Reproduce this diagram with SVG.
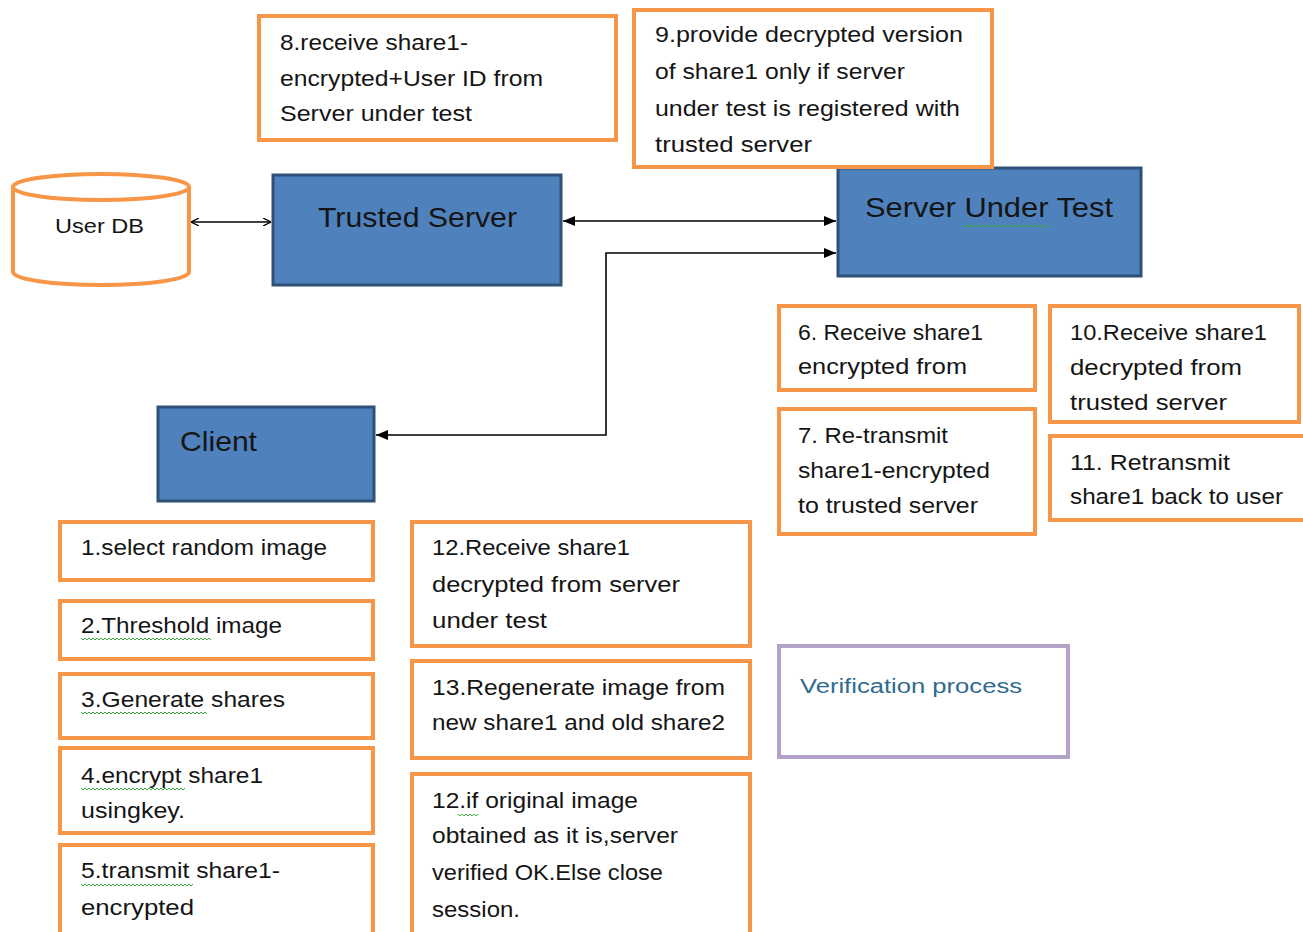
<svg xmlns="http://www.w3.org/2000/svg" width="1303" height="932" viewBox="0 0 1303 932">
<style>
.bg{fill:#ffffff}
.step{fill:#ffffff;stroke:#F79646;stroke-width:4}
.ent{fill:#4F81BD;stroke:#2F5176;stroke-width:3}
.vp{fill:#ffffff;stroke:#B3A2C7;stroke-width:4}
text{font-family:"Liberation Sans",Arial,sans-serif;fill:#151515}
.t{font-size:22px}
.h{font-size:28px}
.db{font-size:21px}
.vt{font-size:20px;fill:#2F6B8F}
.conn{fill:none;stroke:#000;stroke-width:1.6}
.sq{fill:none;stroke:#3DAA3D;stroke-width:1}
</style>
<defs>
<marker id="tri" viewBox="0 0 12 10" refX="12" refY="5" markerWidth="12" markerHeight="10" markerUnits="userSpaceOnUse" orient="auto-start-reverse">
<path d="M0,0 L12,5 L0,10 Z" fill="#000"/>
</marker>
<marker id="open" viewBox="0 0 8 8" refX="8" refY="4" markerWidth="8" markerHeight="8" markerUnits="userSpaceOnUse" orient="auto-start-reverse">
<path d="M0,0 L8,4 L0,8" fill="none" stroke="#000" stroke-width="1.3"/>
</marker>
</defs>
<rect class="bg" x="0" y="0" width="1303" height="932"/>

<g id="connectors">
<line class="conn" x1="191" y1="222" x2="271" y2="222" marker-start="url(#open)" marker-end="url(#open)"/>
<line class="conn" x1="563" y1="221" x2="836" y2="221" marker-start="url(#tri)" marker-end="url(#tri)"/>
<polyline class="conn" points="376,435 606,435 606,253 836,253" marker-start="url(#tri)" marker-end="url(#tri)"/>
</g>

<g id="userdb">
<path d="M13,187 L13,272 A88,13 0 0 0 189,272 L189,187" fill="#fff" stroke="#F79646" stroke-width="4"/>
<ellipse cx="101" cy="187" rx="88" ry="13" fill="#fff" stroke="#F79646" stroke-width="4"/>
<text class="db" x="55" y="233" textLength="89" lengthAdjust="spacingAndGlyphs">User DB</text>
</g>

<g id="trusted-server">
<rect class="ent" x="273" y="175" width="288" height="110"/>
<text class="h" x="318" y="227" textLength="199" lengthAdjust="spacingAndGlyphs">Trusted Server</text>
</g>

<g id="server-under-test">
<rect class="ent" x="838" y="168" width="303" height="108"/>
<text class="h" x="865" y="217" textLength="248" lengthAdjust="spacingAndGlyphs">Server Under Test</text>
</g>

<g id="client">
<rect class="ent" x="158" y="407" width="216" height="94"/>
<text class="h" x="180" y="451" textLength="77" lengthAdjust="spacingAndGlyphs">Client</text>
</g>

<g id="step8">
<rect class="step" x="259" y="16" width="357" height="124"/>
<text class="t" x="280" y="50" textLength="188" lengthAdjust="spacingAndGlyphs">8.receive share1-</text>
<text class="t" x="280" y="86" textLength="263" lengthAdjust="spacingAndGlyphs">encrypted+User ID from</text>
<text class="t" x="280" y="121" textLength="192" lengthAdjust="spacingAndGlyphs">Server under test</text>
</g>

<g id="step9">
<rect class="step" x="634" y="10" width="358" height="157"/>
<text class="t" x="655" y="42" textLength="308" lengthAdjust="spacingAndGlyphs">9.provide decrypted version</text>
<text class="t" x="655" y="79" textLength="250" lengthAdjust="spacingAndGlyphs">of share1 only if server</text>
<text class="t" x="655" y="116" textLength="305" lengthAdjust="spacingAndGlyphs">under test is registered with</text>
<text class="t" x="655" y="152" textLength="157" lengthAdjust="spacingAndGlyphs">trusted server</text>
</g>

<g id="step6">
<rect class="step" x="779" y="306" width="256" height="84"/>
<text class="t" x="798" y="340" textLength="185" lengthAdjust="spacingAndGlyphs">6. Receive share1</text>
<text class="t" x="798" y="374" textLength="169" lengthAdjust="spacingAndGlyphs">encrypted from</text>
</g>

<g id="step7">
<rect class="step" x="779" y="409" width="256" height="125"/>
<text class="t" x="798" y="443" textLength="150" lengthAdjust="spacingAndGlyphs">7. Re-transmit</text>
<text class="t" x="798" y="478" textLength="192" lengthAdjust="spacingAndGlyphs">share1-encrypted</text>
<text class="t" x="798" y="513" textLength="180" lengthAdjust="spacingAndGlyphs">to trusted server</text>
</g>

<g id="step10">
<rect class="step" x="1050" y="306" width="249" height="116"/>
<text class="t" x="1070" y="340" textLength="197" lengthAdjust="spacingAndGlyphs">10.Receive share1</text>
<text class="t" x="1070" y="375" textLength="172" lengthAdjust="spacingAndGlyphs">decrypted from</text>
<text class="t" x="1070" y="410" textLength="157" lengthAdjust="spacingAndGlyphs">trusted server</text>
</g>

<g id="step11">
<rect class="step" x="1050" y="436" width="270" height="84"/>
<text class="t" x="1070" y="470" textLength="160" lengthAdjust="spacingAndGlyphs">11. Retransmit</text>
<text class="t" x="1070" y="504" textLength="213" lengthAdjust="spacingAndGlyphs">share1 back to user</text>
</g>

<g id="step1">
<rect class="step" x="60" y="522" width="313" height="58"/>
<text class="t" x="81" y="555" textLength="246" lengthAdjust="spacingAndGlyphs">1.select random image</text>
</g>

<g id="step2">
<rect class="step" x="60" y="601" width="313" height="58"/>
<text class="t" x="81" y="633" textLength="201" lengthAdjust="spacingAndGlyphs">2.Threshold image</text>
</g>

<g id="step3">
<rect class="step" x="60" y="674" width="313" height="64"/>
<text class="t" x="81" y="707" textLength="204" lengthAdjust="spacingAndGlyphs">3.Generate shares</text>
</g>

<g id="step4">
<rect class="step" x="60" y="748" width="313" height="85"/>
<text class="t" x="81" y="783" textLength="182" lengthAdjust="spacingAndGlyphs">4.encrypt share1</text>
<text class="t" x="81" y="818" textLength="104" lengthAdjust="spacingAndGlyphs">usingkey.</text>
</g>

<g id="step5">
<rect class="step" x="60" y="845" width="313" height="100"/>
<text class="t" x="81" y="878" textLength="199" lengthAdjust="spacingAndGlyphs">5.transmit share1-</text>
<text class="t" x="81" y="915" textLength="113" lengthAdjust="spacingAndGlyphs">encrypted</text>
</g>

<g id="step12a">
<rect class="step" x="412" y="522" width="338" height="124"/>
<text class="t" x="432" y="555" textLength="198" lengthAdjust="spacingAndGlyphs">12.Receive share1</text>
<text class="t" x="432" y="592" textLength="248" lengthAdjust="spacingAndGlyphs">decrypted from server</text>
<text class="t" x="432" y="628" textLength="115" lengthAdjust="spacingAndGlyphs">under test</text>
</g>

<g id="step13">
<rect class="step" x="412" y="661" width="338" height="97"/>
<text class="t" x="432" y="695" textLength="293" lengthAdjust="spacingAndGlyphs">13.Regenerate image from</text>
<text class="t" x="432" y="730" textLength="293" lengthAdjust="spacingAndGlyphs">new share1 and old share2</text>
</g>

<g id="step12b">
<rect class="step" x="412" y="774" width="338" height="170"/>
<text class="t" x="432" y="808" textLength="206" lengthAdjust="spacingAndGlyphs">12.if original image</text>
<text class="t" x="432" y="843" textLength="246" lengthAdjust="spacingAndGlyphs">obtained as it is,server</text>
<text class="t" x="432" y="880" textLength="231" lengthAdjust="spacingAndGlyphs">verified OK.Else close</text>
<text class="t" x="432" y="917" textLength="88" lengthAdjust="spacingAndGlyphs">session.</text>
</g>

<g id="verification">
<rect class="vp" x="779" y="646" width="289" height="111"/>
<text class="vt" x="800" y="693" textLength="222" lengthAdjust="spacingAndGlyphs">Verification  process</text>
</g>

<g id="spellcheck">
<polyline class="sq" points="963,225 965,227 967,225 969,227 971,225 973,227 975,225 977,227 979,225 981,227 983,225 985,227 987,225 989,227 991,225 993,227 995,225 997,227 999,225 1001,227 1003,225 1005,227 1007,225 1009,227 1011,225 1013,227 1015,225 1017,227 1019,225 1021,227 1023,225 1025,227 1027,225 1029,227 1031,225 1033,227 1035,225 1037,227 1039,225 1041,227 1043,225 1045,227 1047,225 1049,227"/>
<polyline class="sq" points="81,638 83,640 85,638 87,640 89,638 91,640 93,638 95,640 97,638 99,640 101,638 103,640 105,638 107,640 109,638 111,640 113,638 115,640 117,638 119,640 121,638 123,640 125,638 127,640 129,638 131,640 133,638 135,640 137,638 139,640 141,638 143,640 145,638 147,640 149,638 151,640 153,638 155,640 157,638 159,640 161,638 163,640 165,638 167,640 169,638 171,640 173,638 175,640 177,638 179,640 181,638 183,640 185,638 187,640 189,638 191,640 193,638 195,640 197,638 199,640 201,638 203,640 205,638 207,640 209,638 211,640"/>
<polyline class="sq" points="81,712 83,714 85,712 87,714 89,712 91,714 93,712 95,714 97,712 99,714 101,712 103,714 105,712 107,714 109,712 111,714 113,712 115,714 117,712 119,714 121,712 123,714 125,712 127,714 129,712 131,714 133,712 135,714 137,712 139,714 141,712 143,714 145,712 147,714 149,712 151,714 153,712 155,714 157,712 159,714 161,712 163,714 165,712 167,714 169,712 171,714 173,712 175,714 177,712 179,714 181,712 183,714 185,712 187,714 189,712 191,714 193,712 195,714 197,712 199,714 201,712 203,714 205,712 207,714"/>
<polyline class="sq" points="81,788 83,790 85,788 87,790 89,788 91,790 93,788 95,790 97,788 99,790 101,788 103,790 105,788 107,790 109,788 111,790 113,788 115,790 117,788 119,790 121,788 123,790 125,788 127,790 129,788 131,790 133,788 135,790 137,788 139,790 141,788 143,790 145,788 147,790 149,788 151,790 153,788 155,790 157,788 159,790 161,788 163,790 165,788 167,790 169,788 171,790 173,788 175,790 177,788 179,790 181,788 183,790 185,788"/>
<polyline class="sq" points="81,884 83,886 85,884 87,886 89,884 91,886 93,884 95,886 97,884 99,886 101,884 103,886 105,884 107,886 109,884 111,886 113,884 115,886 117,884 119,886 121,884 123,886 125,884 127,886 129,884 131,886 133,884 135,886 137,884 139,886 141,884 143,886 145,884 147,886 149,884 151,886 153,884 155,886 157,884 159,886 161,884 163,886 165,884 167,886 169,884 171,886 173,884 175,886 177,884 179,886 181,884 183,886 185,884 187,886 189,884 191,886 193,884"/>
<polyline class="sq" points="458,814 460,816 462,814 464,816 466,814 468,816 470,814 472,816 474,814 476,816 478,814"/>
</g>
</svg>
